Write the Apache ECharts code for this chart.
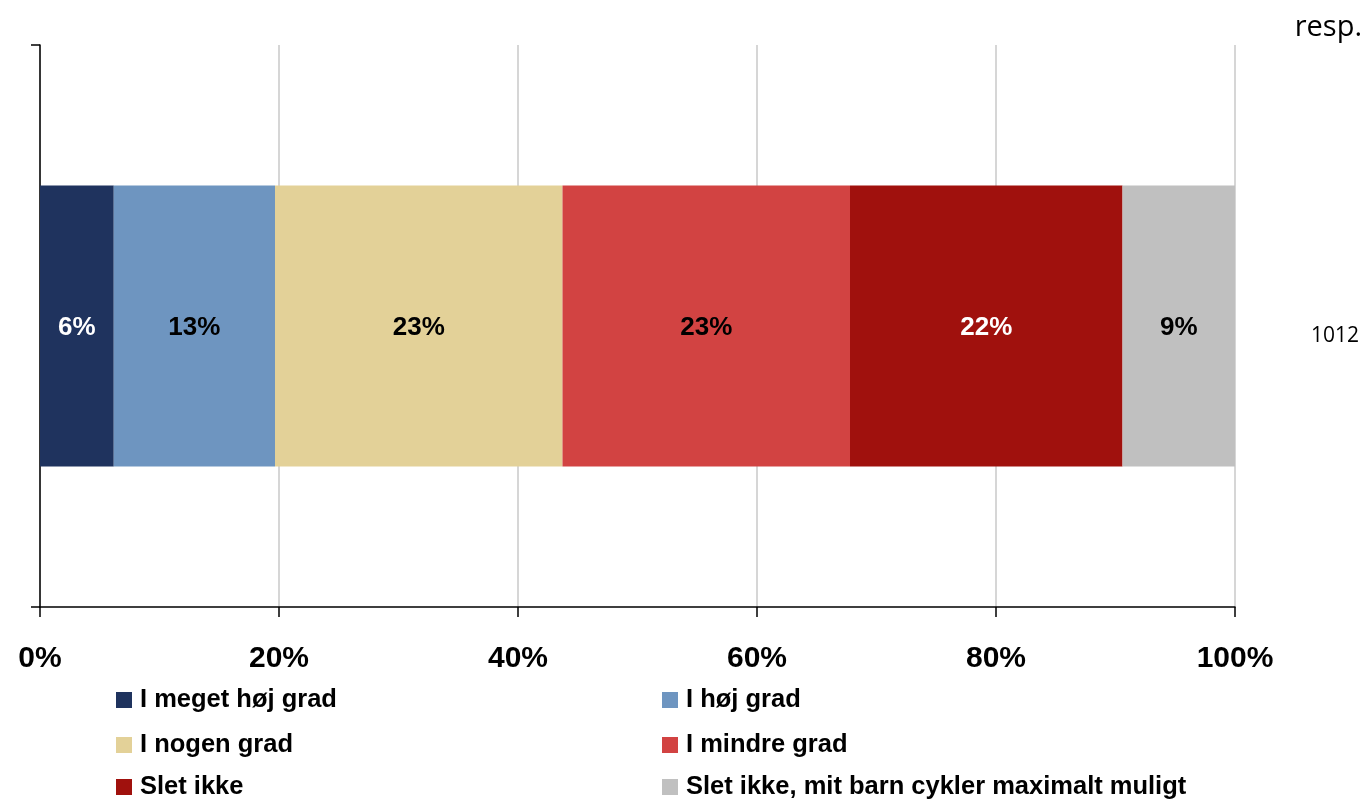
<!DOCTYPE html>
<html>
<head>
<meta charset="utf-8">
<script src="https://cdn.jsdelivr.net/npm/echarts@6/dist/echarts.min.js"></script>
<style>html,body{margin:0;padding:0;background:#fff}#c{width:1370px;height:799px}</style>
</head>
<body>
<div id="c"></div>
<script>
// Data (raw shares, %; the chart is a 100% stacked bar)
var categories = ['1012'];
var seriesNames = ['I meget høj grad', 'I høj grad', 'I nogen grad', 'I mindre grad', 'Slet ikke', 'Slet ikke, mit barn cykler maximalt muligt'];
var seriesValues = [5.9, 12.9, 23.0, 23.0, 21.8, 9.0];
var xTickLabels = ['0%', '20%', '40%', '60%', '80%', '100%'];
var respLabel = 'resp.';
var respCount = '1012';

var colors = ['#1F335E', '#6E95C0', '#E3D198', '#D24342', '#A0110D', '#C0C0C0'];
var labelColors = ['#fff', '#000', '#000', '#000', '#fff', '#000'];

var total = seriesValues.reduce(function (a, b) { return a + b; }, 0);
var FONT = 'Liberation Sans, Arial, sans-serif';

var series = seriesNames.map(function (name, i) {
  return {
    name: name,
    type: 'bar',
    stack: 'all',
    barWidth: '50%',
    itemStyle: { color: colors[i] },
    label: {
      show: true,
      position: 'inside',
      offset: [0, 2],
      fontFamily: FONT,
      fontWeight: 'bold',
      fontSize: 26,
      color: labelColors[i],
      formatter: function () { return Math.round(seriesValues[i]) + '%'; }
    },
    data: [seriesValues[i] / total * 100]
  };
});

// legend layout: two columns, three rows
var legColX = [116, 662];
var legRowY = [698, 743, 785];
var legends = seriesNames.map(function (name, i) {
  return {
    orient: 'horizontal',
    left: legColX[i % 2],
    top: legRowY[Math.floor(i / 2)] - 11,
    padding: 0,
    itemWidth: 16, itemHeight: 16, icon: 'rect',
    textStyle: { fontFamily: FONT, fontWeight: 'bold', fontSize: 25.5, lineHeight: 26, color: '#000', padding: [0, 0, 0, 3] },
    data: [name]
  };
});

var chart = echarts.init(document.getElementById('c'));
chart.setOption({
  animation: false,
  color: colors,
  grid: { left: 40, right: 135, top: 45, bottom: 192 },
  xAxis: {
    type: 'value', min: 0, max: 100, interval: 20,
    axisLine: { show: true, lineStyle: { color: '#000', width: 1.5 } },
    axisTick: { show: true, length: 10, lineStyle: { color: '#000', width: 1.5 } },
    splitLine: { show: true, lineStyle: { color: '#C8C8C8', width: 1.5 } },
    axisLabel: {
      margin: 37,
      fontFamily: FONT, fontWeight: 'bold', fontSize: 30, color: '#000',
      formatter: function (v) { return xTickLabels[Math.round(v / 20)]; }
    }
  },
  yAxis: {
    type: 'category', data: categories,
    axisLine: { show: true, lineStyle: { color: '#000', width: 1.5 } },
    axisTick: { show: true, length: 9, lineStyle: { color: '#000', width: 1.5 } },
    axisLabel: { show: false }
  },
  legend: legends,
  graphic: [
    { type: 'text', right: 8, top: 13, style: { text: respLabel, font: '29px "Open Sans", sans-serif', fill: '#000' } },
    { type: 'text', left: 1311, top: 326, style: { text: respCount, font: '21px "Open Sans", sans-serif', fill: '#000' } }
  ],
  series: series
});
</script>
</body>
</html>
